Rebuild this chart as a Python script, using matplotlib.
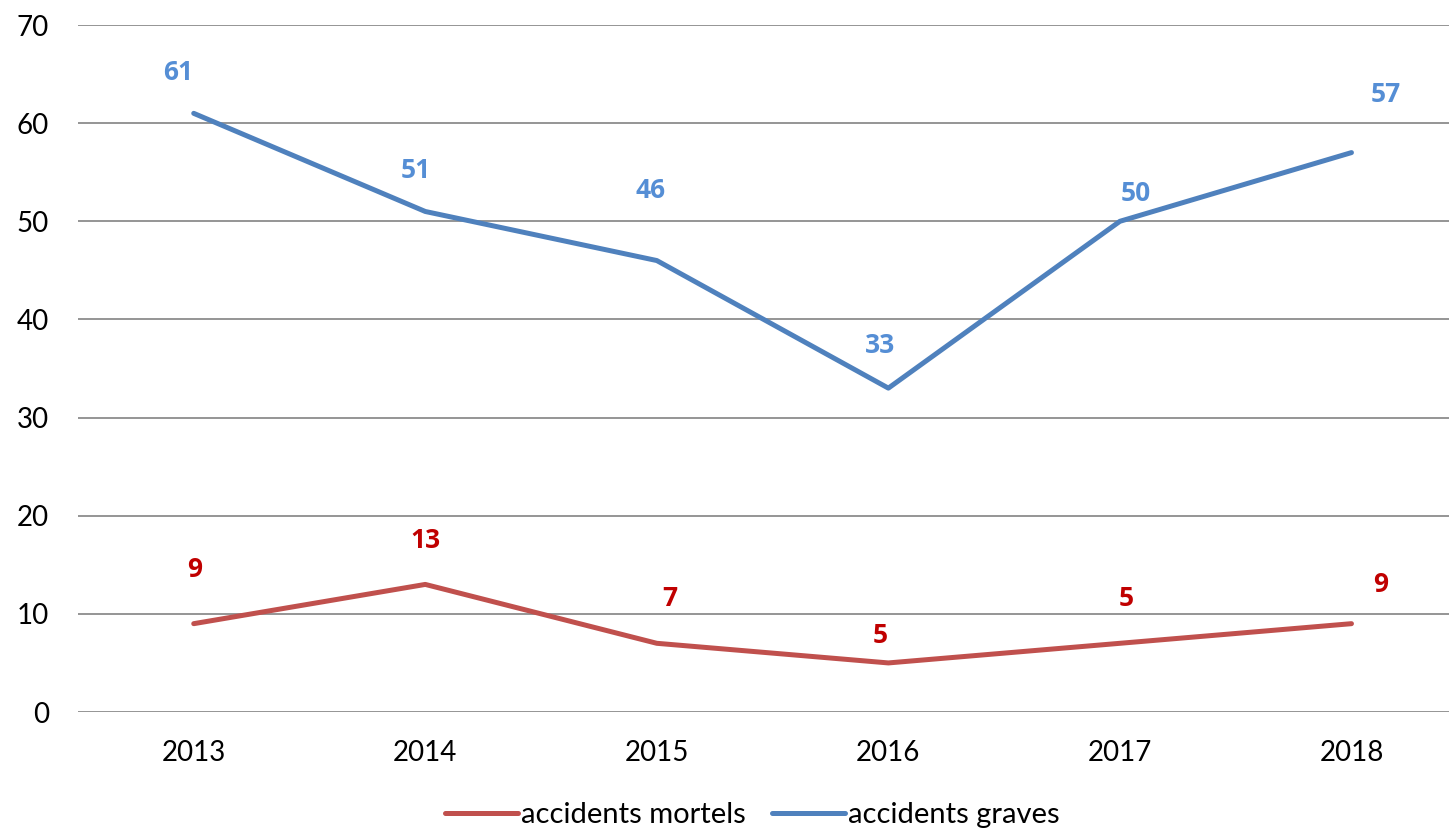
import matplotlib.pyplot as plt

annees = ['2013', '2014', '2015', '2016', '2017', '2018']
mortels = [9, 13, 7, 5, 7, 9]
mortels_etiquettes = ['9', '13', '7', '5', '5', '9']
graves = [61, 51, 46, 33, 50, 57]
graves_etiquettes = ['61', '51', '46', '33', '50', '57']

# décalages des étiquettes (pixels), placées à la main comme dans l'original
decal_graves = [(-16, 41), (-10, 41), (-6, 70), (-8, 43), (16, 28), (34, 58)]
decal_mortels = [(1, 54), (0, 44), (13, 45), (-8, 27), (6, 45), (29, 39)]

plt.rcParams['font.family'] = ['Lato', 'DejaVu Sans']

fig = plt.figure(figsize=(14.49, 8.31), dpi=100)
ax = fig.add_axes([0.0538, 0.1432, 0.946, 0.8267])

x = list(range(len(annees)))
ax.plot(x, mortels, color='#C0504D', linewidth=3.6, solid_capstyle='round',
        label='accidents mortels', zorder=3)
ax.plot(x, graves, color='#4F81BD', linewidth=3.6, solid_capstyle='round',
        label='accidents graves', zorder=3)

px = 72 / 100
for xi, v, t, d in zip(x, graves, graves_etiquettes, decal_graves):
    ax.annotate(t, (xi, v), xytext=(d[0] * px, d[1] * px), textcoords='offset points',
                ha='center', va='center', fontsize=19, fontweight='bold',
                family='Open Sans', color='#558ED5')
for xi, v, t, d in zip(x, mortels, mortels_etiquettes, decal_mortels):
    ax.annotate(t, (xi, v), xytext=(d[0] * px, d[1] * px), textcoords='offset points',
                ha='center', va='center', fontsize=19, fontweight='bold',
                family='Open Sans', color='#C00000')

ax.set_ylim(0, 70)
ax.set_yticks(range(0, 71, 10))
ax.set_xlim(-0.5, 5.42)
ax.set_xticks(x)
ax.set_xticklabels(annees)
ax.grid(axis='y', color='#8C8C8C', linewidth=1.3)
ax.set_axisbelow(True)
for s in ax.spines.values():
    s.set_visible(False)
ax.tick_params(axis='both', length=0, labelsize=20, colors='black')
ax.tick_params(axis='y', pad=21)
ax.tick_params(axis='x', pad=20)

fig.legend(loc='lower center', bbox_to_anchor=(0.519, -0.028), ncol=2, frameon=False,
           fontsize=21, handlelength=2.5, handletextpad=0.1, columnspacing=0.9)

fig.savefig('out.png', dpi=100)
